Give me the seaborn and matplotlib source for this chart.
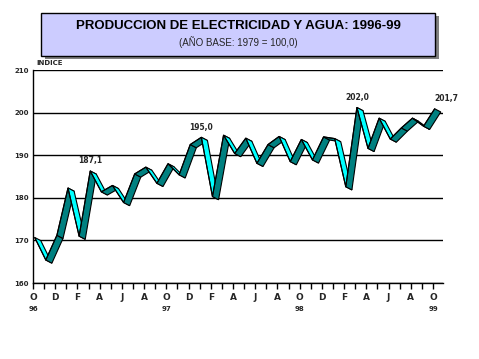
import numpy as np
import pandas as pd
import seaborn as sns
import matplotlib.pyplot as plt
from matplotlib.patches import Rectangle

# monthly index, Oct 1996 - Oct 1999
months = ['O', 'N', 'D', 'J', 'F', 'M', 'A', 'M', 'J', 'J', 'A', 'S'] * 3 + ['O']
values = [171.5, 166.2, 172.0, 183.1, 171.8, 187.1, 182.2, 183.7, 179.7, 186.4,
          188.0, 184.2, 188.8, 186.2, 193.3, 195.0, 181.1, 195.5, 191.2, 194.8,
          188.9, 193.3, 195.2, 189.3, 194.5, 189.7, 195.1, 194.7, 183.4, 202.0,
          192.4, 199.5, 194.6, 197.2, 199.5, 197.6, 201.7]
year_labels = ['96', '97', '98', '99']
labelled = {5: '187,1', 15: '195,0', 29: '202,0', 36: '201,7'}

df = pd.DataFrame({'t': np.arange(len(values)), 'indice': values})

sns.set_style('white')
plt.rcParams['font.family'] = ['DejaVu Sans']

fig = plt.figure(figsize=(4.79, 3.59), dpi=100)
ax = fig.add_axes([33 / 479, 1 - 283 / 359, 410 / 479, 213 / 359])

# 3D ribbon look: front edge shifted a bit, back edge down-right
sx, sy = 0.15, -0.8
bx, by = 0.55, -0.75
xf = df['t'] + sx
yf = df['indice'] + sy
for i in range(len(df) - 1):
    x0, x1 = xf[i], xf[i + 1]
    y0, y1 = yf[i], yf[i + 1]
    cross = (x1 - x0) * 11.1 * (by * 4.25) - (y1 - y0) * 4.25 * (bx * 11.1)
    col = '#00FFFF' if cross > 0 else '#008080'
    ax.fill([x0, x1, x1 + bx, x0 + bx], [y0, y1, y1 + by, y0 + by],
            facecolor=col, edgecolor='black', linewidth=0.8, zorder=3)

sns.lineplot(x=xf, y=yf, ax=ax, color='black', linewidth=0.8, zorder=4)

for i, txt in labelled.items():
    ha = 'left' if i == len(df) - 1 else 'center'
    ax.annotate(txt, (xf[i], yf[i]), xytext=(0, 4), textcoords='offset points',
                ha=ha, va='bottom', fontsize=5.5, fontweight='bold')

ax.set_xlim(0, 36.9)
ax.set_ylim(160, 210)
ax.set_yticks(range(160, 211, 10))
ax.set_xticks(range(len(months)))
ax.set_xticklabels([m if k % 2 == 0 else '' for k, m in enumerate(months)])
ax.tick_params(axis='x', direction='out', length=4, width=1, pad=3,
               labelsize=6.5, bottom=True, color='black')
ax.tick_params(axis='y', length=0, pad=3, labelsize=5)
for lab in ax.get_xticklabels() + ax.get_yticklabels():
    lab.set_fontweight('bold')
ax.yaxis.grid(True, color='black', linewidth=1)
ax.xaxis.grid(False)
ax.set_xlabel('')
ax.set_ylabel('')
for s in ['top', 'right']:
    ax.spines[s].set_visible(False)
for s in ['left', 'bottom']:
    ax.spines[s].set_color('black')
    ax.spines[s].set_linewidth(1)

for k, yr in enumerate(year_labels):
    ax.annotate(yr, (k * 12, 0), xycoords=('data', 'axes fraction'),
                xytext=(0, -19), textcoords='offset points',
                ha='center', va='center', fontsize=5, fontweight='bold')

# title box with shadow
fig.patches.append(Rectangle((45 / 479, 1 - 59 / 359), 394.3 / 479, 42.8 / 359,
                             transform=fig.transFigure, facecolor='#808080',
                             edgecolor='none', zorder=0))
fig.patches.append(Rectangle((40.7 / 479, 1 - 55.5 / 359), 394.3 / 479, 42.8 / 359,
                             transform=fig.transFigure, facecolor='#CCCCFF',
                             edgecolor='black', linewidth=1, zorder=1))
fig.text(0.497, 1 - 26 / 359, 'PRODUCCION DE ELECTRICIDAD Y AGUA: 1996-99',
         ha='center', va='center', fontsize=9.5, fontweight='bold',
         family='Liberation Sans', color='black')
fig.text(0.497, 1 - 42.5 / 359, '(AÑO BASE: 1979 = 100,0)',
         ha='center', va='center', fontsize=7, family='Liberation Sans')
fig.text(36 / 479, 1 - 63 / 359, 'INDICE', ha='left', va='center',
         fontsize=5, fontweight='bold', zorder=5)

fig.savefig('out.png', dpi=100)
